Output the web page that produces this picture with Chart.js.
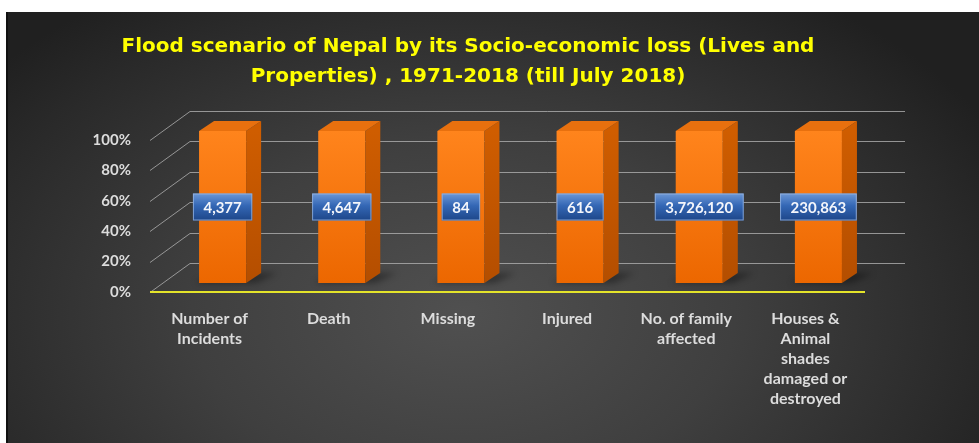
<!DOCTYPE html>
<html>
<head>
<meta charset="utf-8">
<script src="https://cdn.jsdelivr.net/npm/chart.js@4.4.1/dist/chart.umd.min.js"></script>
<style>
  html, body { margin: 0; padding: 0; background: #fff; width: 979px; height: 443px; overflow: hidden; }
  #frame {
    position: absolute; left: 6px; top: 12px; width: 973px; height: 431px;
    background: radial-gradient(ellipse 62% 90% at 47% 70%, #505050 0%, #3f3f3f 45%, #292929 85%, #202020 100%);
    box-shadow: inset 2px 0 0 #111;
  }
  canvas { display: block; }
</style>
</head>
<body>
<div id="frame"><canvas id="lossChart" width="973" height="431"></canvas></div>
<script>
/*
==============================================
    Datos del grafico
==============================================
*/
const titleLines = [
    'Flood scenario of Nepal by its Socio-economic loss (Lives and',
    'Properties) , 1971-2018 (till July 2018)'
];
const categories = [
    ['Number of', 'Incidents'],
    ['Death'],
    ['Missing'],
    ['Injured'],
    ['No. of family', 'affected'],
    ['Houses &', 'Animal', 'shades', 'damaged or', 'destroyed']
];
const lossValues = [4377, 4647, 84, 616, 3726120, 230863];
const yTicks = [0, 20, 40, 60, 80, 100];

// grafico 100% apilado: cada columna se divide por su propio total
const allSeries = [lossValues];
const columnTotals = lossValues.map((_, i) => allSeries.reduce((s, arr) => s + arr[i], 0));
const lossShare = lossValues.map((v, i) => v / columnTotals[i] * 100);

// efecto 3D (desplazamientos en pixeles)
const WALL = { dx: 40, dy: -29 };      // de plano frontal a pared del fondo
const BAR_SHIFT = { dx: 13, dy: -9 };   // cara frontal de la barra
const BAR_DEPTH = { dx: 15, dy: -10 };  // grosor de la barra

const depth3d = {
    id: 'depth3d',
    beforeDatasetsDraw(chart) {
        const { ctx, chartArea: a, scales: { y } } = chart;
        ctx.save();
        ctx.strokeStyle = 'rgba(175,175,175,0.8)';
        ctx.lineWidth = 1;
        yTicks.forEach(t => {
            const py = Math.round(y.getPixelForValue(t)) + 0.5;
            ctx.beginPath();
            ctx.moveTo(a.left, py);
            ctx.lineTo(a.left + WALL.dx, py + WALL.dy);
            ctx.lineTo(a.right + WALL.dx, py + WALL.dy);
            ctx.stroke();
        });
        ctx.restore();

        // sombras en el piso
        ctx.save();
        ctx.translate(BAR_SHIFT.dx, BAR_SHIFT.dy);
        chart.getDatasetMeta(0).data.forEach(bar => {
            const { x, base, width } = bar.getProps(['x', 'base', 'width'], true);
            const l = x - width / 2, r = x + width / 2;
            ctx.fillStyle = 'rgba(0,0,0,0.35)';
            ctx.filter = 'blur(3px)';
            ctx.beginPath();
            ctx.moveTo(l - 4, base);
            ctx.lineTo(r + 10, base);
            ctx.lineTo(r + BAR_DEPTH.dx + 16, base + BAR_DEPTH.dy);
            ctx.lineTo(l + BAR_DEPTH.dx, base + BAR_DEPTH.dy);
            ctx.closePath();
            ctx.fill();
        });
        ctx.filter = 'none';
        ctx.restore();

        // linea base amarilla
        ctx.save();
        ctx.strokeStyle = '#e4e42a';
        ctx.lineWidth = 2;
        ctx.beginPath();
        ctx.moveTo(a.left, a.bottom);
        ctx.lineTo(a.right, a.bottom);
        ctx.stroke();
        ctx.restore();

        // las barras se dibujan desplazadas hacia el fondo
        ctx.save();
        ctx.translate(BAR_SHIFT.dx, BAR_SHIFT.dy);
    },
    afterDatasetsDraw(chart) {
        const ctx = chart.ctx;
        const meta = chart.getDatasetMeta(0);
        meta.data.forEach((bar, i) => {
            const { x, y, base, width } = bar.getProps(['x', 'y', 'base', 'width'], true);
            const l = x - width / 2, r = x + width / 2;
            // cara lateral
            const sideGrad = ctx.createLinearGradient(0, y, 0, base);
            sideGrad.addColorStop(0, '#cf5d00');
            sideGrad.addColorStop(1, '#b44e00');
            ctx.fillStyle = sideGrad;
            ctx.beginPath();
            ctx.moveTo(r, y);
            ctx.lineTo(r + BAR_DEPTH.dx, y + BAR_DEPTH.dy);
            ctx.lineTo(r + BAR_DEPTH.dx, base + BAR_DEPTH.dy);
            ctx.lineTo(r, base);
            ctx.closePath();
            ctx.fill();
            // cara superior
            ctx.fillStyle = '#e8700e';
            ctx.beginPath();
            ctx.moveTo(l, y);
            ctx.lineTo(r, y);
            ctx.lineTo(r + BAR_DEPTH.dx, y + BAR_DEPTH.dy);
            ctx.lineTo(l + BAR_DEPTH.dx, y + BAR_DEPTH.dy);
            ctx.closePath();
            ctx.fill();

            // etiqueta de valor
            const text = lossValues[i].toLocaleString('en-US');
            ctx.font = 'bold 15px Lato';
            const tw = ctx.measureText(text).width;
            const bw = tw + 21, bh = 27;
            const cy = (y + base) / 2;
            const bx = x - bw / 2, by = cy - bh / 2;
            const boxGrad = ctx.createLinearGradient(0, by, 0, by + bh);
            boxGrad.addColorStop(0, '#6b97d6');
            boxGrad.addColorStop(0.45, '#3467b5');
            boxGrad.addColorStop(1, '#1d4689');
            ctx.fillStyle = boxGrad;
            ctx.fillRect(bx, by, bw, bh);
            ctx.strokeStyle = 'rgba(150,180,225,0.8)';
            ctx.lineWidth = 1;
            ctx.strokeRect(bx + 0.5, by + 0.5, bw - 1, bh - 1);
            ctx.fillStyle = '#f4f6fb';
            ctx.textAlign = 'center';
            ctx.textBaseline = 'middle';
            ctx.fillText(text, x, cy + 1);
        });
        ctx.restore();
    }
};

const ctx = document.getElementById('lossChart').getContext('2d');
new Chart(ctx, {
    type: 'bar',
    data: {
        labels: categories,
        datasets: [{
            label: 'Loss',
            data: lossShare,
            clip: false,
            backgroundColor: context => {
                const a = context.chart.chartArea;
                if (!a) return '#f57410';
                const g = context.chart.ctx.createLinearGradient(0, a.top, 0, a.bottom);
                g.addColorStop(0, '#ff841c');
                g.addColorStop(1, '#ec6700');
                return g;
            },
            borderWidth: 0,
            categoryPercentage: 1,
            barPercentage: 0.395
        }]
    },
    options: {
        responsive: false,
        animation: false,
        layout: { padding: { left: 65, right: 114, top: 0, bottom: 0 } },
        plugins: {
            legend: { display: false },
            tooltip: { enabled: false },
            title: {
                display: true,
                text: titleLines,
                color: '#ffff00',
                font: { family: 'DejaVu Sans', size: 20, weight: 'bold', lineHeight: 30 / 20 },
                padding: { top: 20, bottom: 48 }
            }
        },
        scales: {
            x: {
                stacked: true,
                grid: { display: false, drawTicks: false },
                border: { display: false },
                ticks: {
                    color: '#dcdcdc',
                    font: { family: 'Lato', size: 16, weight: 'bold', lineHeight: 20 / 16 },
                    padding: 17,
                    maxRotation: 0,
                    autoSkip: false
                },
                afterFit(scale) { scale.height = 151; }
            },
            y: {
                stacked: true,
                min: 0,
                max: 100,
                grid: { display: false, drawTicks: false },
                border: { display: false },
                ticks: {
                    stepSize: 20,
                    color: '#dcdcdc',
                    font: { family: 'Lato', size: 15, weight: 'bold' },
                    padding: 19,
                    callback: v => v + '%'
                },
                afterFit(scale) { scale.width = 79; }
            }
        }
    },
    plugins: [depth3d]
});
</script>
</body>
</html>
